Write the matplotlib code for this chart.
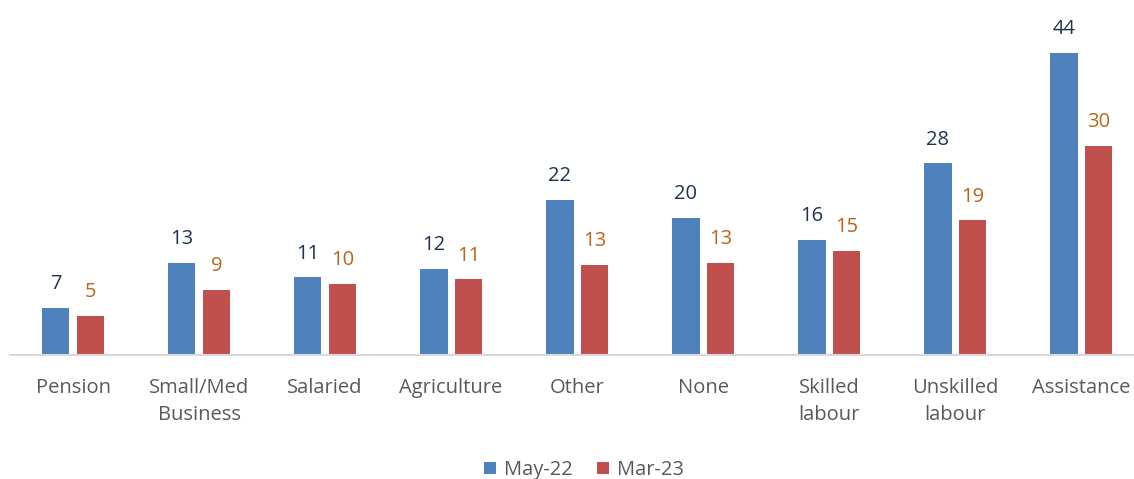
import matplotlib.pyplot as plt
import numpy as np

# --- Data ---
categories = ["Pension", "Small/Med\nBusiness", "Salaried", "Agriculture", "Other",
              "None", "Skilled\nlabour", "Unskilled\nlabour", "Assistance"]
may22 = [6.8, 13.4, 11.3, 12.5, 22.6, 19.9, 16.7, 27.9, 44.0]
mar23 = [5.7, 9.5, 10.4, 11.0, 13.1, 13.4, 15.2, 19.6, 30.4]
may22_labels = [7, 13, 11, 12, 22, 20, 16, 28, 44]
mar23_labels = [5, 9, 10, 11, 13, 13, 15, 19, 30]

blue = "#4F81BD"
red = "#C0504D"

plt.rcParams['font.family'] = ['Open Sans', 'DejaVu Sans']

fig = plt.figure(figsize=(11.34, 4.79), dpi=100)
ax = fig.add_axes([10 / 1134, 1 - 355 / 479, 1124 / 1134, 355 / 479])

x = np.arange(len(categories))
w = 0.22
off = 0.138
b1 = ax.bar(x - off, may22, w, color=blue, label="May-22")
b2 = ax.bar(x + off, mar23, w, color=red, label="Mar-23")

for rect, lab in zip(b1, may22_labels):
    ax.annotate(str(lab), (rect.get_x() + rect.get_width() / 2, rect.get_height()),
                xytext=(0, 10), textcoords="offset points", ha="center", va="bottom",
                fontsize=14.5, color="#1F3350")
for rect, lab in zip(b2, mar23_labels):
    ax.annotate(str(lab), (rect.get_x() + rect.get_width() / 2, rect.get_height()),
                xytext=(0, 10), textcoords="offset points", ha="center", va="bottom",
                fontsize=14.5, color="#B8651B")

ax.set_xlim(-0.5, 8.42)
ax.set_ylim(0, 51.7)
ax.set_xticks(x)
ax.set_xticklabels(categories, fontsize=14.5, color="#595959", linespacing=1.5, va="top")
ax.tick_params(axis="x", length=0, pad=16.5)
ax.set_yticks([])
for s in ["top", "right", "left"]:
    ax.spines[s].set_visible(False)
ax.spines["bottom"].set_color("#D9D9D9")
ax.spines["bottom"].set_linewidth(1.5)

fig.legend(loc="center", bbox_to_anchor=(584 / 1134, 1 - 470 / 479), ncol=2, frameon=False,
           fontsize=14.5, handlelength=0.6, handleheight=0.6, columnspacing=1.2,
           handletextpad=0.4, labelcolor="#595959")

fig.savefig("out.png", dpi=100)
